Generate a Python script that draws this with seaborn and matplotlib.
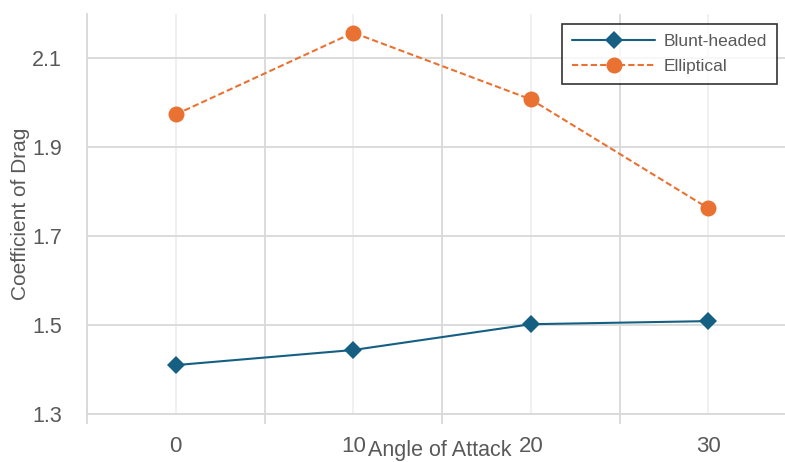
import matplotlib
matplotlib.use("Agg")
import matplotlib.pyplot as plt
import seaborn as sns
import pandas as pd
from matplotlib.ticker import FixedLocator

# Drag coefficient vs angle of attack for two nose shapes
angles = ["0", "10", "20", "30"]
blunt_headed = [1.410, 1.444, 1.502, 1.509]
elliptical = [1.974, 2.158, 2.008, 1.763]
y_ticks = [1.3, 1.5, 1.7, 1.9, 2.1]

sns.set_theme(style="white")
plt.rcParams["font.family"] = ["Liberation Sans", "DejaVu Sans"]

pos = list(range(len(angles)))
df_blunt = pd.DataFrame({"pos": pos, "cd": blunt_headed})
df_ell = pd.DataFrame({"pos": pos, "cd": elliptical})

fig = plt.figure(figsize=(7.85, 4.62), dpi=100)
ax = fig.add_axes([87 / 785, 48 / 462, 710 / 785, 400 / 462])

text_col = "#595959"
grid_major = "#d9d9d9"
grid_minor = "#efefef"

sns.lineplot(data=df_blunt, x="pos", y="cd", ax=ax, color="#156082",
             marker="D", markersize=9.5, markeredgewidth=0, linewidth=1.5,
             label="Blunt-headed", zorder=3)
sns.lineplot(data=df_ell, x="pos", y="cd", ax=ax, color="#E97132",
             marker="o", markersize=11.5, markeredgewidth=0, linewidth=1.5,
             linestyle=(0, (3, 1.5)), label="Elliptical", zorder=3)

ax.set_xlim(-0.5, len(angles) - 0.5)
ax.set_ylim(1.3, 2.2)

# category boundaries carry the tick marks, category centers carry labels
ax.xaxis.set_major_locator(FixedLocator([i - 0.5 for i in range(len(angles) + 1)]))
ax.xaxis.set_minor_locator(FixedLocator(pos))
ax.set_xticklabels([""] * (len(angles) + 1))
ax.set_xticklabels(angles, minor=True)
ax.tick_params(axis="x", which="major", length=7, width=1.3, color=grid_major,
               direction="out", bottom=True)
ax.tick_params(axis="x", which="minor", length=0, pad=16, labelsize=16,
               labelcolor=text_col)

ax.set_yticks(y_ticks)
ax.set_yticklabels([f"{v:.1f}" for v in y_ticks])
ax.tick_params(axis="y", length=0, pad=18, labelsize=15.5, labelcolor=text_col)

ax.grid(True, which="major", axis="both", color=grid_major, linewidth=1.3)
ax.grid(True, which="minor", axis="x", color=grid_minor, linewidth=1.3)
ax.set_axisbelow(True)

for side in ["top", "right"]:
    ax.spines[side].set_visible(False)
for side in ["left", "bottom"]:
    ax.spines[side].set_color(grid_major)
    ax.spines[side].set_linewidth(1.3)

ax.set_xlabel("Angle of Attack", fontsize=15.5, color=text_col)
ax.xaxis.set_label_coords(0.497, -0.105)
ax.xaxis.label.set_va("baseline")
ax.set_ylabel("Coefficient of Drag", fontsize=15, color=text_col)
ax.yaxis.set_label_coords(-0.094, 0.5)
ax.yaxis.label.set_va("center")

leg = ax.legend(loc="upper right", bbox_to_anchor=(0.9718, 0.975),
                borderaxespad=0, fontsize=12.5, frameon=True, fancybox=False,
                handlelength=4.8, handletextpad=0.5, labelcolor=text_col,
                borderpad=0.55, labelspacing=0.6)
leg.get_frame().set_edgecolor("black")
leg.get_frame().set_linewidth(1.2)

fig.savefig("out.png", dpi=100)
